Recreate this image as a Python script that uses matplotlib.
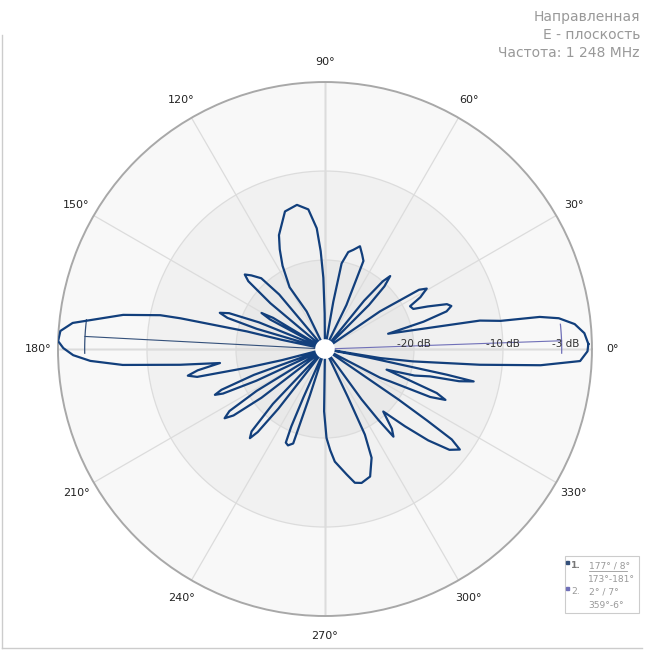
import numpy as np
import matplotlib.pyplot as plt
from matplotlib.lines import Line2D
from matplotlib.patches import Rectangle

# outline of the pattern, in path order (deg, dB)
pattern_deg = [1.1, 3.5, 5.7, 7.5, 8.5, 9.1, 10.4, 13.6,
               15.5, 17.2, 18.8, 20.2, 22.5, 24.4, 26.7, 28.5, 30.7, 32.2, 34.4, 36,
               43, 45, 46.5, 48.2, 49.5, 51, 53,
               62, 64, 66.4, 68.5, 71.2, 74, 76.5, 79, 80, 82,
               89.5, 90.5, 91.3, 92.5, 93.9, 96.8, 101, 106.2, 109.2, 112, 114.4, 117, 119.8, 116, 115,
               127, 130, 132, 135, 137.1, 138.5, 140, 142,
               147, 149, 150.4, 151.7, 154,
               156, 158, 159.5, 161, 162.3, 163.5, 165.5,
               167, 168, 167.3, 168, 168.4, 170.4, 173, 174.1, 176.1, 178.3, 179.8, 181.4, 182.9,
               184.5, 185.5, 186.2, 187.6,
               189.5, 191, 192.3, 193.5, 194.5, 196,
               198, 200, 201.5, 202.6, 203.6, 204.8, 207,
               209, 211.5, 213, 214.6, 216, 217.5, 220,
               224, 226.5, 228.3, 229.9, 231, 232, 234,
               244, 246, 246.5, 247.3, 249, 251.4, 251.5, 252, 254,
               268.5, 269.2, 270.5, 271, 273, 275, 279.8, 282.6, 285.3, 289.5, 293.2, 295, 295.5, 297,
               304, 306, 307, 308, 310, 313,
               316, 318.5, 321, 323.3, 324.5, 325, 325.5, 327,
               330, 332.5, 333.6, 335.5, 337.1, 338.5, 341.5,
               343.5, 345.4, 346.5, 347.7, 348.1, 348.3, 349, 349.5,
               350.7, 352, 354.2, 355.7, 357.3, 359.5]
pattern_db = [-0.4, -0.8, -1.8, -3.5, -5.6, -10, -12.3, -22.7,
              -18.5, -15.7, -15.0, -15.4, -17.5, -19.1, -19.3, -17.8, -16.7, -17.5, -22.5, -30,
              -30, -23, -20.3, -19, -20, -23, -30,
              -30, -24.5, -19.2, -18.6, -17.8, -18.4, -18.8, -20.2, -24.6, -30,
              -30, -26, -22, -19, -16.4, -14.2, -13.5, -13.9, -15.2, -16.2, -17.7, -19.5, -22, -25.3, -30,
              -30, -22, -19.3, -18.3, -17.7, -18.5, -22, -30,
              -30, -23.2, -21.8, -23, -30,
              -30, -22, -18.5, -17.5, -18.5, -22, -30,
              -30, -25, -21, -13.4, -11.1, -7, -3.4, -1.5, -0.2, 0, -0.6, -1.7, -3.6,
              -7.2, -11.4, -13.6, -18.1,
              -15.5, -14.3, -15.3, -21, -25, -30,
              -30, -21.5, -17.5, -16.6, -17.5, -21.5, -30,
              -30, -21, -17.2, -16.3, -17.3, -21, -30,
              -30, -21.5, -17.6, -16.9, -18, -21.5, -30,
              -30, -24, -20.5, -18.6, -18.4, -18.8, -20.5, -24.5, -30,
              -30, -23, -21, -20, -18.6, -17.3, -15.7, -14.6, -14.4, -14.8, -16.7, -19.4, -24, -30,
              -30, -23, -20, -17.5, -18.3, -20.4,
              -17.5, -14.5, -12, -11.1, -12.5, -16, -20, -30,
              -30, -23, -21.8, -17, -15.3, -16.5, -22.7,
              -19.5, -17.8, -14.5, -12.9, -16, -20, -25, -30,
              -23.7, -20, -12.5, -5.7, -1.3, -0.5]

# beam markers: direction, -3 dB level, beam edges
beam_dir = [177, 2]
beam_level = [-3.0, -3.4]
beam_from = [173, -1]
beam_to = [181, 6]
beam_colors = ['#34507a', '#7070b8']

angle_ticks = list(range(0, 360, 30))
angle_labels = [f'{a}°' for a in angle_ticks]
ring_labels = [(-20, '-20 dB'), (-10, '-10 dB'), (-3, '-3 dB')]

fig = plt.figure(figsize=(6.5, 6.5), dpi=100)
ax = fig.add_axes([0.0892, 0.0523, 0.8215, 0.8215], projection='polar')
ax.set_ylim(-30, 0)

# shaded rings
ax.bar(0, 10, width=2 * np.pi, bottom=-30, color='#e9e9e9', zorder=0, linewidth=0)
ax.bar(0, 10, width=2 * np.pi, bottom=-20, color='#f1f1f1', zorder=0, linewidth=0)
ax.bar(0, 10, width=2 * np.pi, bottom=-10, color='#f8f8f8', zorder=0, linewidth=0)

ax.set_yticks([-20, -10])
ax.set_yticklabels([])
ax.set_thetagrids(angle_ticks, angle_labels)
ax.tick_params(axis='x', pad=4, labelsize=8, labelcolor='#222222')
ax.grid(color='#dcdcdc', lw=0.9)
ax.spines['polar'].set_color('#a8a8a8')
ax.spines['polar'].set_linewidth(1.4)
for a in [0, 90, 180, 270]:
    ax.plot(np.deg2rad([a, a]), [-30, 0], color='#b8b8b8', lw=1, zorder=1)

for r, t in ring_labels:
    ax.text(0, r, t, ha='center', va='bottom', fontsize=7.5, color='#333333', zorder=6)

# pattern
th = np.deg2rad(np.append(pattern_deg, pattern_deg[0] + 360))
rr = np.append(pattern_db, pattern_db[0])
ax.plot(th, rr, color='#123f7c', lw=1.6, zorder=4)

# beam markers
for d, lv, a0, a1, c in zip(beam_dir, beam_level, beam_from, beam_to, beam_colors):
    ax.plot(np.deg2rad([d, d]), [-30, lv], color=c, lw=0.8, zorder=3)
    arc = np.deg2rad(np.linspace(a0, a1, 20))
    ax.plot(arc, np.full_like(arc, lv), color=c, lw=0.9, zorder=3)

# white hole in the middle
ax.bar(0, 1.1, width=2 * np.pi, bottom=-30, color='white', zorder=5, linewidth=0)

# title block
for y, t in [(17, 'Направленная'), (35, 'E - плоскость'), (53, 'Частота: 1 248 MHz')]:
    fig.text(640 / 650, 1 - y / 650, t, ha='right', va='center', fontsize=10, color='#999999')

# legend box
px = lambda x, y: (x / 650, 1 - y / 650)
fig.patches.append(Rectangle(px(565, 613), 74 / 650, 57 / 650, transform=fig.transFigure,
                             facecolor='white', edgecolor='#cccccc', lw=0.8))
fig.patches.append(Rectangle(px(566, 564), 3 / 650, 3 / 650, transform=fig.transFigure, color=beam_colors[0]))
fig.patches.append(Rectangle(px(566, 590), 3 / 650, 3 / 650, transform=fig.transFigure, color=beam_colors[1]))
lfs = 6.6
fig.text(*px(571, 566), '1.', fontsize=lfs, fontweight='bold', color='#777777', va='center')
fig.text(*px(589, 566), '177° / 8°', fontsize=lfs, color='#999999', va='center')
fig.add_artist(Line2D([589 / 650, 627 / 650], [1 - 571 / 650] * 2, color='#999999', lw=0.6))
fig.text(*px(588, 579), '173°-181°', fontsize=lfs, color='#999999', va='center')
fig.text(*px(571, 592), '2.', fontsize=lfs, color='#999999', va='center')
fig.text(*px(589, 592), '2° / 7°', fontsize=lfs, color='#999999', va='center')
fig.text(*px(588, 605), '359°-6°', fontsize=lfs, color='#999999', va='center')

# frame
fig.add_artist(Line2D([1.5 / 650, 1.5 / 650], [1 - 35 / 650, 1 - 648 / 650], color='#cccccc', lw=1))
fig.add_artist(Line2D([1.5 / 650, 642 / 650], [1 - 648 / 650] * 2, color='#cccccc', lw=1))

fig.savefig('out.png', dpi=100)
